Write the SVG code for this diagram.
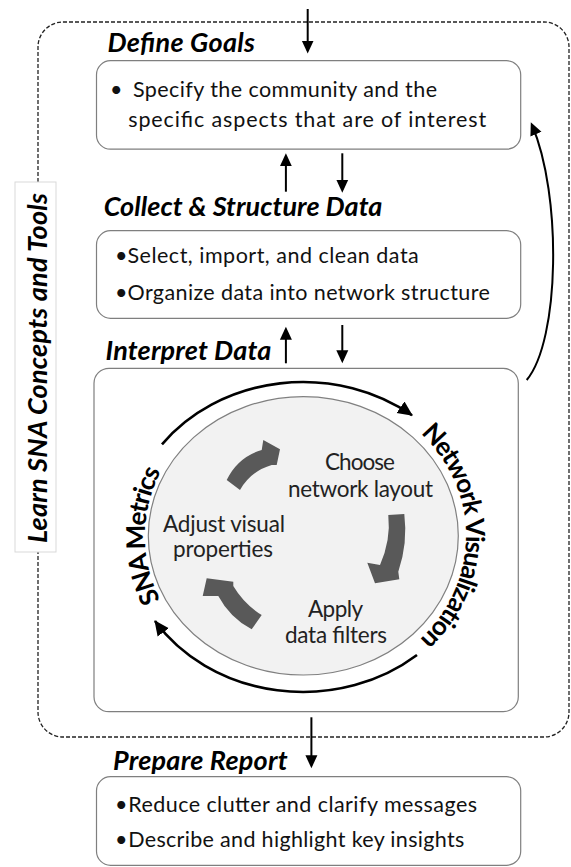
<svg xmlns="http://www.w3.org/2000/svg" width="571" height="867" viewBox="0 0 571 867">
<defs>
<marker id="ah" markerUnits="userSpaceOnUse" markerWidth="14" markerHeight="14" viewBox="0 0 14 14" refX="10" refY="7" orient="auto"><path d="M0,1 L13,7 L0,13 Z" fill="#000"/></marker>
<marker id="ah2" markerUnits="userSpaceOnUse" markerWidth="16" markerHeight="16" viewBox="0 0 16 16" refX="14" refY="8" orient="auto"><path d="M0,1 L15,8 L0,15 Z" fill="#000"/></marker>
<path id="arcR" d="M303,388 A163,148 0 0,1 303,684" fill="none"/>
<path id="arcL" d="M303,684 A158,148 0 0,1 303,388" fill="none"/>
</defs>
<style>
.title{font-family:Lato,'Open Sans',sans-serif;font-weight:700;font-style:italic;font-size:27px;fill:#000}
.body{font-family:Lato,'Open Sans',sans-serif;font-size:21.5px;fill:#111}
.inner{font-family:Lato,'Open Sans',sans-serif;font-size:22.5px;fill:#222;text-anchor:middle}
.curve{font-family:Lato,'Open Sans',sans-serif;font-weight:700;font-size:26px;letter-spacing:-1.2px;fill:#000}
.box{fill:#fff;stroke:#7f7f7f;stroke-width:1.2}
.conn{stroke:#000;stroke-width:2;fill:none;marker-end:url(#ah)}
.cyc{stroke:#000;stroke-width:2.6;fill:none;marker-end:url(#ah2)}
.blk{fill:#595959}
</style>
<rect width="571" height="867" fill="#fff"/>

<g id="learn-frame">
<rect x="38" y="22" width="531" height="715" rx="25" ry="25" fill="none" stroke="#222" stroke-width="1.3" stroke-dasharray="4 2"/>
<rect x="15" y="182" width="41" height="370" fill="#fff" stroke="#d9d9d9" stroke-width="1"/>
<text class="title" transform="translate(46.7,368) rotate(-90)" x="0" y="0" text-anchor="middle" textLength="350">Learn SNA Concepts and Tools</text>
</g>

<g id="node-define">
<text class="title" x="107.4" y="51.7" textLength="147.6">Define Goals</text>
<rect class="box" x="96.5" y="60.7" width="424.2" height="88.5" rx="14"/>
<text class="body" x="110" y="96.7">•</text>
<text class="body" x="133" y="96.7" textLength="304">Specify the community and the</text>
<text class="body" x="128.2" y="126.7" textLength="358">specific aspects that are of interest</text>
</g>

<g id="node-collect">
<text class="title" x="103.8" y="216" textLength="278.6">Collect &amp; Structure Data</text>
<rect class="box" x="96.5" y="230.7" width="424.2" height="87.6" rx="14"/>
<text class="body" x="115" y="263.3">•</text>
<text class="body" x="127.5" y="263.3" textLength="291.3">Select, import, and clean data</text>
<text class="body" x="115" y="300">•</text>
<text class="body" x="127.5" y="300" textLength="362.3">Organize data into network structure</text>
</g>

<g id="node-interpret">
<text class="title" x="105.6" y="360" textLength="165.7">Interpret Data</text>
<rect class="box" x="94" y="368.3" width="424.3" height="343.4" rx="15"/>
<ellipse cx="303.3" cy="535.8" rx="155" ry="139.2" fill="#f2f2f2" stroke="#808080" stroke-width="1.2"/>
<path class="cyc" d="M162,444.3 A176,155 0 0,1 412,415.3"/>
<path class="cyc" d="M417,655 A176,155 0 0,1 155,621"/>
<text class="curve"><textPath href="#arcR" startOffset="50%" text-anchor="middle">Network Visualization</textPath></text>
<text class="curve"><textPath href="#arcL" startOffset="50%" text-anchor="middle">SNA Metrics</textPath></text>
<path class="blk" d="M226.7,480 Q238,457 261.7,450 L263.3,440 L280,449.3 L276.7,465 L271.7,465 Q251,471 240,490 Z"/>
<path class="blk" d="M388.3,515 L404.3,514 Q408,543 398.3,571.7 L399.3,579.3 L375,583.3 L367.3,562.7 L380,565 Q391,540 388.3,515 Z"/>
<path class="blk" d="M261.7,615 Q244,604 233.3,586 L233.3,581.7 L206.7,578.3 L202.7,596 L218.3,596 Q230,618 251.7,629.3 Z"/>
<text class="inner" x="360" y="470" textLength="70">Choose</text>
<text class="inner" x="360.5" y="497" textLength="145">network layout</text>
<text class="inner" x="224" y="532" textLength="122">Adjust visual</text>
<text class="inner" x="223" y="557" textLength="100">properties</text>
<text class="inner" x="335.5" y="617" textLength="55">Apply</text>
<text class="inner" x="336" y="643" textLength="102">data filters</text>
</g>

<g id="node-report">
<text class="title" x="112.9" y="770" textLength="174.8">Prepare Report</text>
<rect class="box" x="96.5" y="776.7" width="424.2" height="88.6" rx="14"/>
<text class="body" x="115" y="811.7">•</text>
<text class="body" x="128.2" y="811.7" textLength="348.8">Reduce clutter and clarify messages</text>
<text class="body" x="115" y="846.7">•</text>
<text class="body" x="128.2" y="846.7" textLength="336.1">Describe and highlight key insights</text>
</g>

<g id="connectors">
<line class="conn" x1="307.7" y1="9" x2="307.7" y2="50.5"/>
<line class="conn" x1="285.9" y1="191.7" x2="285.9" y2="156.3"/>
<line class="conn" x1="342.3" y1="153.3" x2="342.3" y2="189.7"/>
<line class="conn" x1="285.9" y1="363.3" x2="285.9" y2="329.7"/>
<line class="conn" x1="342.3" y1="325" x2="342.3" y2="360.3"/>
<line class="conn" x1="311.4" y1="717.3" x2="311.4" y2="765.3"/>
<path class="conn" stroke-width="2.4" d="M526.7,380 C560,340 562,195 532,125"/>
</g>
</svg>
